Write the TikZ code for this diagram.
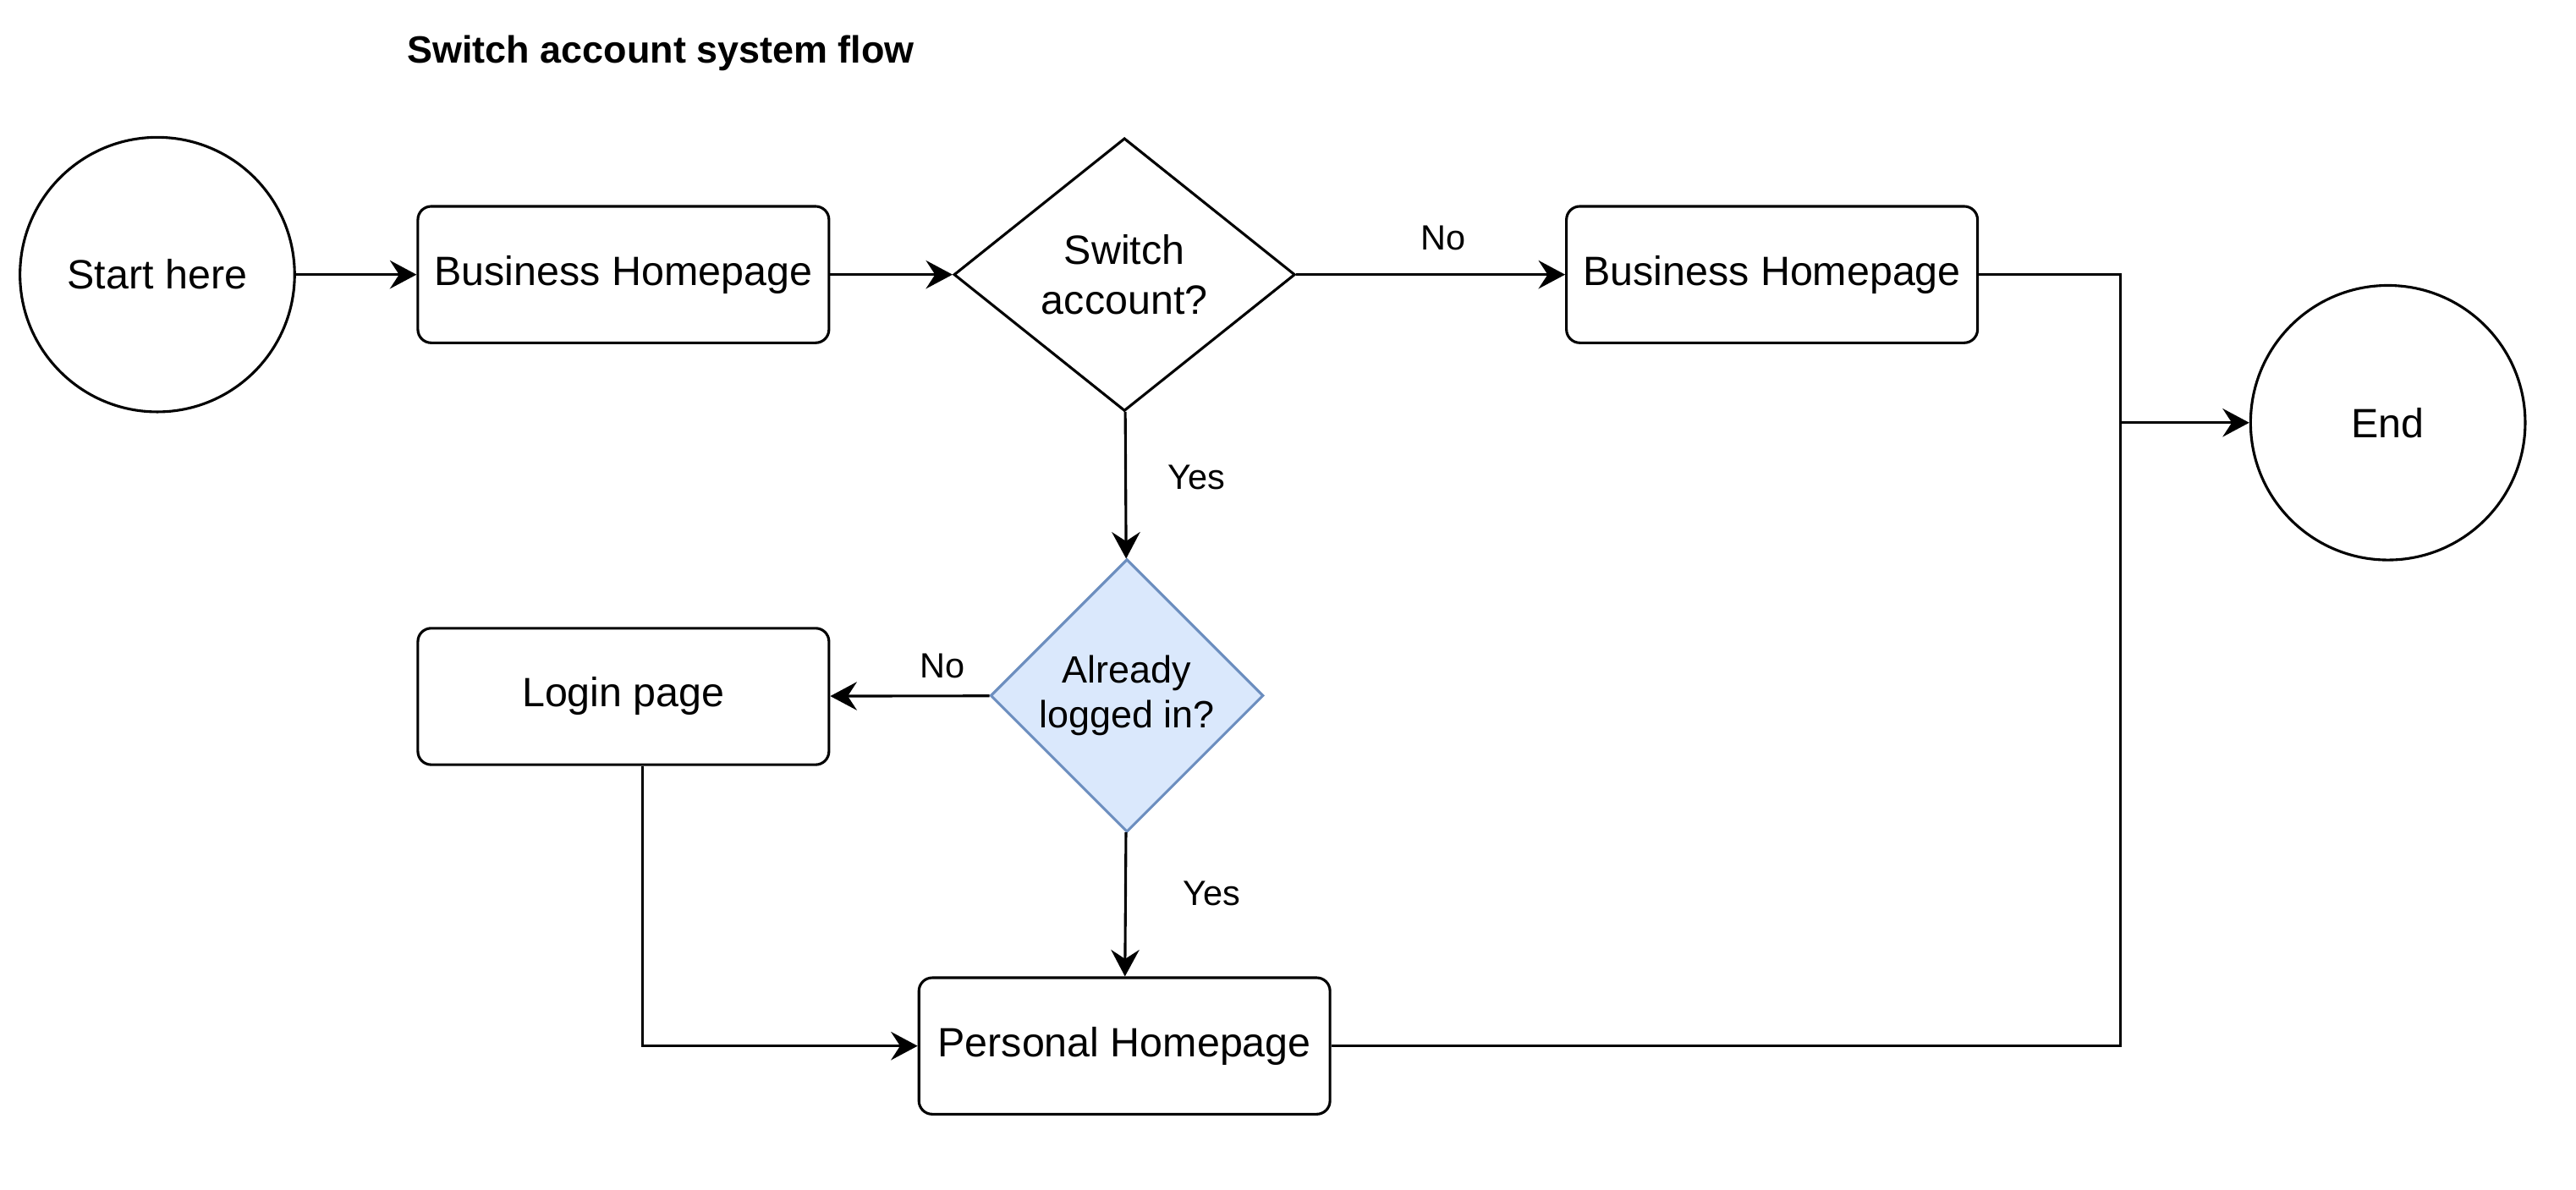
\documentclass[tikz,border=0pt]{standalone}
\usepackage{fontspec}
\setmainfont{Liberation Sans}
\usepackage{xcolor}
\usepackage{tikz}
\usetikzlibrary{shapes.geometric}
\usetikzlibrary{arrows.meta}
\definecolor{askfill}{HTML}{DAE8FC}
\definecolor{askline}{HTML}{6C8EBF}
\def\bigfont{\fontsize{14}{17}\selectfont}
\def\smallfont{\fontsize{12}{14}\selectfont}

\begin{document}
\begin{tikzpicture}[x=0.02cm,y=-0.02cm,line width=0.9pt,
	term/.style={circle,draw,minimum size=3.3cm,inner sep=0pt,font=\bigfont},
	page/.style={draw,rounded corners=0.16cm,minimum width=4.94cm,minimum height=1.64cm,inner sep=0pt,font=\bigfont},
	ask/.style={diamond,draw,inner sep=0pt,align=center},
	flow/.style={-{Stealth[length=0.32cm,width=0.34cm,inset=0.11cm]}},
	tag/.style={font=\smallfont}]
					\useasboundingbox (0,0) rectangle (1547.5,715);
					\node[font=\fontsize{13}{16}\selectfont\bfseries] (title) at (397,32) {Switch account system flow};
					\node[term] (start) at (94.5,165) {Start here};
					\node[page] (bhome) at (374.5,165) {Business Homepage};
					\node[ask,minimum width=4.1cm,minimum height=3.28cm,font=\bigfont] (switch) at (675.5,165) {Switch\\account?};
					\node[page] (bhomeno) at (1064.5,165) {Business Homepage};
					\node[term] (end) at (1434.5,254) {End};
					\node[ask,minimum width=3.28cm,minimum height=3.28cm,fill=askfill,draw=askline,font=\fontsize{13}{15.5}\selectfont] (logged) at (677,418) {Already\\logged in?};
					\node[page] (login) at (374.5,418.5) {Login page};
					\node[page] (phome) at (675.5,628.5) {Personal Homepage};
					\coordinate (joint) at (1274,254);
					\coordinate (lturn) at (386,628.5);
					\draw[flow] (start) -- (bhome);
					\draw[flow] (bhome) -- (switch);
					\draw[flow] (switch) -- (bhomeno);
					\node[tag] (noa) at (867,143) {No};
					\draw[flow] (switch) -- (logged);
					\node[tag] (yesa) at (719,287) {Yes};
					\draw[flow] (logged) -- (login);
					\node[tag] (nob) at (566,400) {No};
					\draw[flow] (logged) -- (phome);
					\node[tag] (yesb) at (728,537) {Yes};
					\draw[flow] (login.south -| lturn) -- (lturn) -- (phome);
					\draw (bhomeno.east) -| (joint) |- (phome.east);
					\draw[flow] (joint) -- (end);
				\end{tikzpicture}
\end{document}
